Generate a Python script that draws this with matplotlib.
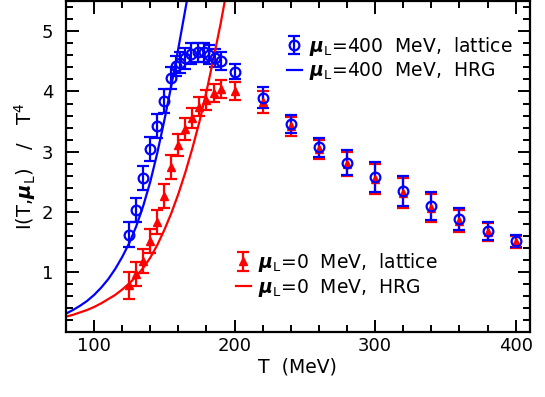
import matplotlib
matplotlib.use("Agg")
import matplotlib.pyplot as plt
from matplotlib.ticker import MultipleLocator

# lattice, mu_L = 400 MeV
T_400 = [125, 130, 135, 140, 145, 150, 155, 158, 161, 165, 169, 174, 178, 182, 186, 190,
         200, 220, 240, 260, 280, 300, 320, 340, 360, 380, 400]
I_400 = [1.62, 2.03, 2.57, 3.05, 3.43, 3.84, 4.22, 4.42, 4.48, 4.55, 4.63, 4.65, 4.65, 4.61, 4.56, 4.50,
         4.33, 3.90, 3.46, 3.07, 2.82, 2.58, 2.34, 2.10, 1.88, 1.69, 1.52]
E_400 = [0.21, 0.2, 0.2, 0.2, 0.2, 0.2, 0.18, 0.17, 0.17, 0.17, 0.17, 0.16, 0.16, 0.16, 0.15, 0.15,
         0.13, 0.17, 0.15, 0.15, 0.2, 0.25, 0.25, 0.23, 0.18, 0.15, 0.1]

# lattice, mu_L = 0
T_0 = [125, 130, 135, 140, 145, 150, 155, 160, 165, 170, 175, 180, 185, 190,
       200, 220, 240, 260, 280, 300, 320, 340, 360, 380, 400]
I_0 = [0.78, 0.97, 1.19, 1.52, 1.83, 2.27, 2.74, 3.11, 3.38, 3.56, 3.75, 3.86, 3.97, 4.04,
       4.01, 3.82, 3.42, 3.04, 2.79, 2.55, 2.31, 2.07, 1.85, 1.66, 1.50]
E_0 = [0.22, 0.2, 0.2, 0.2, 0.2, 0.2, 0.2, 0.18, 0.18, 0.17, 0.16, 0.16, 0.15, 0.15,
       0.15, 0.18, 0.16, 0.16, 0.2, 0.25, 0.25, 0.23, 0.18, 0.15, 0.1]

# HRG curves
T_hrg400 = [80, 85, 90, 95, 100, 105, 110, 115, 120, 125, 130, 135, 140, 145, 150, 155, 160, 166]
I_hrg400 = [0.31, 0.37, 0.44, 0.52, 0.62, 0.74, 0.88, 1.05, 1.25, 1.48, 1.76, 2.1, 2.5, 2.98,
            3.52, 4.1, 4.72, 5.5]
T_hrg0 = [80, 85, 90, 95, 100, 105, 110, 115, 120, 125, 130, 135, 140, 145, 150, 155, 160,
          165, 170, 175, 180, 185, 190, 193]
I_hrg0 = [0.26, 0.29, 0.33, 0.37, 0.42, 0.48, 0.55, 0.62, 0.71, 0.81, 0.93, 1.07, 1.24, 1.45,
          1.7, 1.98, 2.3, 2.66, 3.06, 3.5, 4.0, 4.55, 5.12, 5.5]

blue = "#0000ff"
red = "#ff0000"

fig = plt.figure(figsize=(5.45, 3.97), dpi=100)
ax = fig.add_axes([0.121, 0.163, 0.851, 0.834])

eb_kw = dict(capsize=4.5, elinewidth=1.6, capthick=1.6, linestyle="none")
h0 = ax.errorbar(T_0, I_0, yerr=E_0, color=red, marker="^", markersize=5.5,
                 mfc=red, mec=red, **eb_kw)
h400 = ax.errorbar(T_400, I_400, yerr=E_400, color=blue, marker="o", markersize=7,
                   mfc="none", mec=blue, mew=1.6, **eb_kw)
l400, = ax.plot(T_hrg400, I_hrg400, color=blue, lw=1.6)
l0, = ax.plot(T_hrg0, I_hrg0, color=red, lw=1.6)

ax.set_xlim(80, 410)
ax.set_ylim(0, 5.5)
ax.xaxis.set_major_locator(MultipleLocator(100))
ax.xaxis.set_minor_locator(MultipleLocator(20))
ax.yaxis.set_minor_locator(MultipleLocator(0.2))
ax.set_yticks([1, 2, 3, 4, 5])
ax.tick_params(which="both", direction="in", top=True, right=True, width=1.4, labelsize=13)
ax.tick_params(which="major", length=9)
ax.tick_params(which="minor", length=5)
ax.tick_params(axis="y", pad=9)
for s in ax.spines.values():
    s.set_linewidth(1.6)

mu = r"$\boldsymbol{\mu}_{\rm L}$"
ax.set_xlabel("T  (MeV)", fontsize=13.5, labelpad=2)
ax.set_ylabel("I(T," + mu + ")   /   T$^4$", fontsize=14, labelpad=3)

leg1 = ax.legend([h400, l400], [mu + "=400  MeV,  lattice", mu + "=400  MeV,  HRG"],
                 loc="upper right", bbox_to_anchor=(1.0, 0.95), frameon=False,
                 fontsize=13.5, handlelength=0.8, handletextpad=0.4, labelspacing=0.15)
ax.add_artist(leg1)
ax.legend([h0, l0], [mu + "=0  MeV,  lattice", mu + "=0  MeV,  HRG"],
          loc="lower left", bbox_to_anchor=(0.33, 0.05), frameon=False,
          fontsize=13.5, handlelength=0.8, handletextpad=0.4, labelspacing=0.15)

fig.savefig("out.png", dpi=100)
